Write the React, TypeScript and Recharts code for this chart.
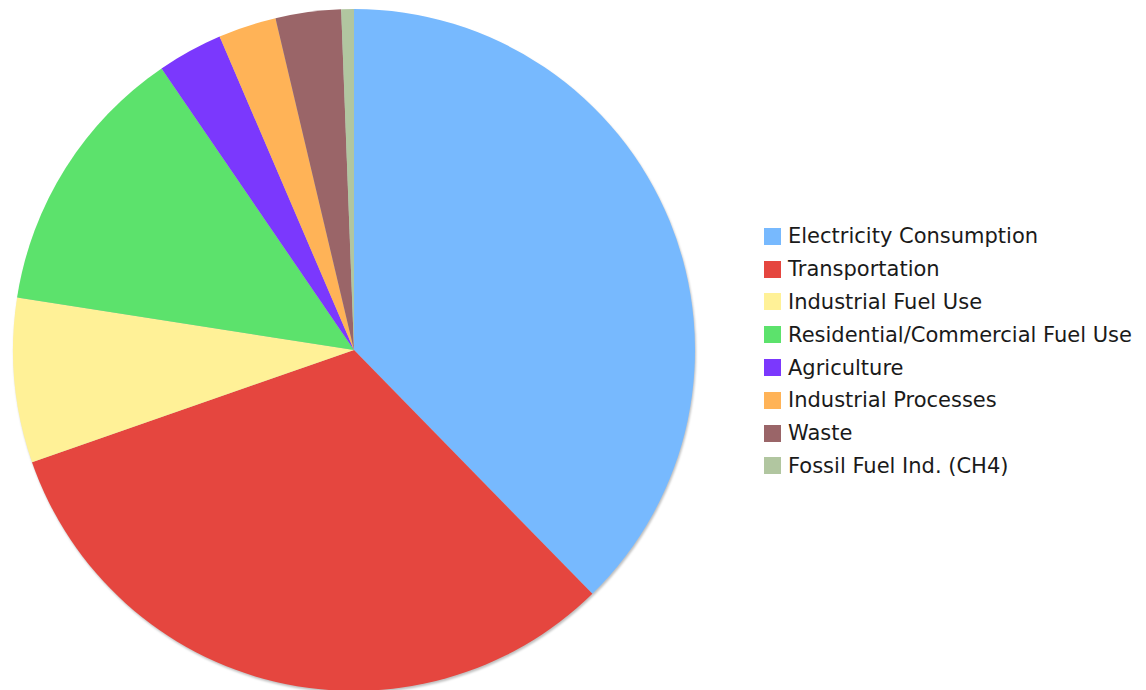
import React from 'react';
import { PieChart, Pie, Cell, Legend } from 'recharts';

const categories = [
  'Electricity Consumption',
  'Transportation',
  'Industrial Fuel Use',
  'Residential/Commercial Fuel Use',
  'Agriculture',
  'Industrial Processes',
  'Waste',
  'Fossil Fuel Ind. (CH4)',
];
const values = [37.7, 32.0, 7.8, 13.0, 3.1, 2.75, 3.1, 0.6];
const colors = ['#77B9FE', '#E5463F', '#FFF197', '#5CE26C', '#7B38FD', '#FFB357', '#9A6568', '#B1C6A0'];

const data = categories.map((name, i) => ({ name, value: values[i] }));

const renderLegend = () => (
  <div style={{ fontFamily: '"DejaVu Sans", Verdana, sans-serif', fontSize: 21, color: '#1a1a1a', whiteSpace: 'nowrap' }}>
    {categories.map((c, i) => (
      <div key={c} style={{ display: 'flex', alignItems: 'center', height: 32.8 }}>
        <span style={{ display: 'inline-block', width: 17, height: 17, background: colors[i], marginRight: 7, flexShrink: 0 }} />
        <span>{c}</span>
      </div>
    ))}
  </div>
);

export default function App() {
  return (
    <div style={{ position: 'absolute', left: 0, top: 0, width: 1146, height: 690, background: '#fff', overflow: 'hidden' }}>
      <style>{`.recharts-pie { filter: drop-shadow(1px 2px 1px rgba(0,0,0,0.25)); }`}</style>
      <PieChart width={1146} height={690} margin={{ top: 0, right: 0, bottom: 0, left: 0 }}>
        <Pie
          data={data}
          dataKey="value"
          nameKey="name"
          cx={354}
          cy={350}
          outerRadius={341}
          startAngle={90}
          endAngle={-270}
          stroke="none"
          isAnimationActive={false}
        >
          {data.map((d, i) => (
            <Cell key={d.name} fill={colors[i]} />
          ))}
        </Pie>
        <Legend
          layout="vertical"
          verticalAlign="top"
          align="right"
          wrapperStyle={{ left: 764, top: 220, width: 382, right: 'auto' }}
          content={renderLegend}
        />
      </PieChart>
    </div>
  );
}
